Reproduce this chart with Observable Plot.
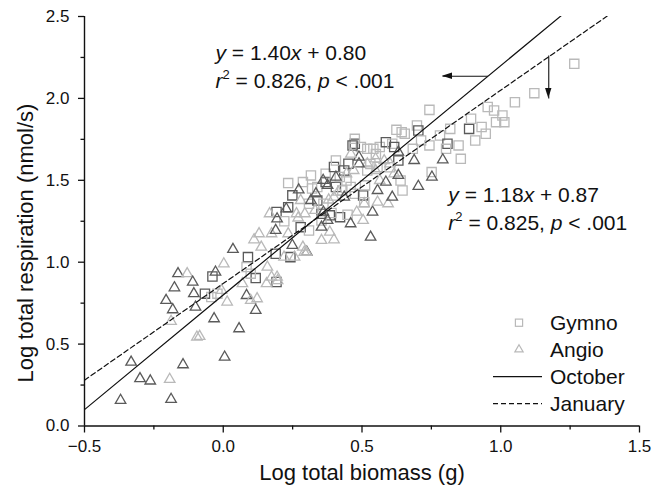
<!DOCTYPE html>
<html>
<head>
<meta charset="utf-8">
<script src="https://cdn.jsdelivr.net/npm/d3@7"></script>
<script src="https://cdn.jsdelivr.net/npm/@observablehq/plot@0.6"></script>
<style>
  html, body { margin: 0; padding: 0; background: #fff; }
  #chart { width: 652px; height: 494px; }
</style>
</head>
<body>
<div id="chart"></div>
<script>
// ---- Data ----
// Gymnosperms (open squares); tone: "d" = dark outline, "l" = light outline
const gymnoX = [-0.066,-0.043,-0.039,-0.021,0.089,0.117,0.189,0.192,0.192,0.234,0.242,0.234,0.287,0.316,0.339,0.369,0.369,0.399,0.406,0.354,0.384,0.354,0.421,0.451,0.474,0.474,0.496,0.519,0.541,0.564,0.586,0.609,0.616,0.631,0.639,0.646,0.474,0.504,0.511,0.519,0.556,0.624,0.643,0.698,0.703,0.743,0.743,0.751,0.781,0.808,0.818,0.803,0.848,0.856,0.886,0.893,0.908,0.931,0.946,0.953,0.976,0.983,1.006,1.013,1.051,1.121,1.265,0.654,0.683,0.713,0.249,0.309,0.339,0.361,0.429,0.444,0.459,0.406,0.436,0.279,0.309,0.099,0.084,0.466,0.448,0.508,0.32,0.42,0.53,0.55,0.60,0.39,0.22];
const gymnoY = [0.808,0.787,0.913,0.808,1.031,0.903,1.052,0.879,1.306,1.336,1.031,1.483,1.489,1.530,1.459,1.489,1.540,1.581,1.459,1.296,1.286,1.255,1.275,1.601,1.723,1.753,1.703,1.692,1.692,1.703,1.733,1.723,1.703,1.621,1.499,1.438,1.418,1.408,1.469,1.560,1.581,1.808,1.794,1.835,1.804,1.930,1.713,1.550,1.774,1.723,1.814,1.692,1.713,1.631,1.814,1.876,1.743,1.825,1.784,1.947,1.926,1.855,1.896,1.855,1.977,2.032,2.211,1.784,1.692,1.743,1.408,1.357,1.377,1.357,1.438,1.499,1.459,1.621,1.560,1.214,1.194,0.930,0.970,1.712,1.290,1.366,1.450,1.520,1.600,1.660,1.580,1.300,1.250];
const gymnoTone = ["d","l","d","l","d","d","d","d","d","d","d","l","l","l","l","d","l","d","d","d","d","l","d","d","d","l","l","l","l","l","d","l","d","d","l","l","l","d","l","l","l","l","l","l","d","l","l","l","l","d","l","l","l","l","d","l","l","l","l","l","l","l","l","l","l","l","l","l","l","l","d","l","d","l","l","l","l","l","d","d","l","l","l","d","l","l","l","l","l","l","l","l","l"];

// Angiosperms (open triangles)
const angioX = [-0.370,-0.332,-0.300,-0.263,-0.193,-0.188,-0.145,-0.206,-0.182,-0.176,-0.163,-0.130,-0.188,-0.110,-0.106,-0.100,-0.085,-0.095,-0.033,0.005,0.057,-0.028,0.002,0.035,0.014,-0.006,0.069,0.084,0.099,0.122,0.117,0.111,0.137,0.159,0.156,0.194,0.167,0.174,0.194,0.227,0.234,0.249,0.257,0.301,0.279,0.272,0.294,0.316,0.334,0.331,0.361,0.354,0.384,0.399,0.376,0.376,0.399,0.406,0.414,0.436,0.459,0.481,0.504,0.508,0.531,0.538,0.556,0.556,0.564,0.594,0.609,0.586,0.616,0.631,0.489,0.519,0.549,0.601,0.631,0.688,0.703,0.752,0.791,0.489,0.444,0.549,0.264,0.189,0.129,0.174,0.219,0.287,0.354,0.292,0.196,0.30,0.38,0.47,0.58,0.46,0.36,0.27];
const angioY = [0.157,0.390,0.289,0.275,0.285,0.163,0.374,0.767,0.710,0.844,0.930,0.930,0.639,0.879,0.808,0.726,0.547,0.543,0.655,0.421,0.594,0.940,0.990,1.078,0.757,0.828,0.869,0.797,0.767,0.777,0.706,1.137,1.092,0.970,0.869,0.909,1.296,1.174,1.265,1.326,1.174,1.103,1.031,1.062,1.377,1.442,1.296,1.377,1.418,1.316,1.306,1.133,1.184,1.137,1.255,1.469,1.397,1.520,1.428,1.397,1.235,1.306,1.255,1.357,1.153,1.306,1.438,1.367,1.499,1.357,1.397,1.489,1.540,1.530,1.642,1.601,1.631,1.601,1.672,1.621,1.463,1.520,1.625,1.601,1.540,1.560,1.296,1.194,1.174,0.909,1.031,1.092,1.214,1.061,0.888,1.060,1.380,1.560,1.620,1.660,1.500,1.270];
const angioTone = ["d","d","d","d","l","d","d","d","d","d","d","l","l","d","d","d","l","l","d","d","d","d","l","d","l","l","l","d","l","l","d","l","l","l","l","l","l","l","d","d","l","d","l","d","l","d","l","d","d","l","d","l","l","l","d","d","l","d","l","d","d","l","l","l","d","d","d","l","l","l","d","d","l","d","d","l","l","l","d","d","d","d","d","d","l","l","l","d","l","l","l","l","d","l","l","l","l","l","l","l","d","l"];

// Regression fits shown on the chart
const fitNames = ["October", "January"];
const fitSlope = [1.40, 1.18];
const fitIntercept = [0.80, 0.87];
const fitR2 = ["0.826", "0.825"];

// Axis ticks
const majorX = [-0.5, 0.0, 0.5, 1.0, 1.5];
const minorX = [-0.25, 0.25, 0.75, 1.25];
const majorY = [0.0, 0.5, 1.0, 1.5, 2.0, 2.5];
const minorY = [0.25, 0.75, 1.25, 1.75, 2.25];

// ---- Build tables ----
const gymno = gymnoX.map((x, i) => ({x, y: gymnoY[i], tone: gymnoTone[i]}));
const angio = angioX.map((x, i) => ({x, y: angioY[i], tone: angioTone[i]}));
const xDomain = [-0.5, 1.5];
const fits = fitNames.flatMap((name, i) =>
  xDomain.map(x => ({name, x, y: fitSlope[i] * x + fitIntercept[i]})));

const toneColor = {d: "#5a5a5a", l: "#b9b9b9"};
const FONT = "'Liberation Sans', Arial, Helvetica, sans-serif";

// annotation arrows (from the fit line toward its equation)
const arrows = [
  {x1: 0.954, y1: 2.135, x2: 0.79, y2: 2.135},
  {x1: 1.173, y1: 2.262, x2: 1.173, y2: 2.0}
];

const chart = Plot.plot({
  width: 652,
  height: 494,
  marginLeft: 84,
  marginRight: 13,
  marginTop: 16,
  marginBottom: 68.5,
  x: {domain: xDomain, label: null},
  y: {domain: [0, 2.5], label: null},
  style: {fontFamily: FONT, fontSize: "17px", color: "#111", background: "#fff", overflow: "visible"},
  marks: [
    Plot.dot(gymno, {x: "x", y: "y", symbol: "square", r: 5.2, fill: "none",
      stroke: d => toneColor[d.tone], strokeWidth: 1.3}),
    Plot.dot(angio, {x: "x", y: "y", symbol: "triangle", r: 3.9, fill: "none",
      stroke: d => toneColor[d.tone], strokeWidth: 1.3}),
    Plot.line(fits.filter(d => d.name === "October"), {x: "x", y: "y", stroke: "#111", strokeWidth: 1.2, clip: true}),
    Plot.line(fits.filter(d => d.name === "January"), {x: "x", y: "y", stroke: "#111", strokeWidth: 1.2, strokeDasharray: "5,3", clip: true}),
    Plot.link(arrows, {x1: "x1", y1: "y1", x2: "x2", y2: "y2", stroke: "#111", strokeWidth: 1.1}),
    Plot.ruleY([0], {stroke: "#111", strokeWidth: 1.4}),
    Plot.ruleX([-0.5], {stroke: "#111", strokeWidth: 1.4}),
    Plot.axisX({ticks: minorX, tickSize: 4, strokeWidth: 1.3, tickFormat: () => "", label: null}),
    Plot.axisX({ticks: majorX, tickSize: 7, tickPadding: 7, strokeWidth: 1.3, tickFormat: d3.format(".1f"), label: null}),
    Plot.axisY({ticks: minorY, tickSize: 3.5, strokeWidth: 1.3, tickFormat: () => "", label: null}),
    Plot.axisY({ticks: majorY, tickSize: 6, tickPadding: 9, strokeWidth: 1.3, tickFormat: d3.format(".1f"), label: null}),
    Plot.text(["Log total biomass (g)"], {frameAnchor: "bottom", dy: 53.5, fontSize: 22, fill: "#111"})
  ]
});

document.getElementById("chart").appendChild(chart);

// ---- Equations, y title, arrowheads and legend (positioned via the chart's scales) ----
const sx = chart.scale("x"), sy = chart.scale("y");
const svg = d3.select(chart);
const ann = svg.append("g").attr("font-family", FONT).attr("fill", "#111").attr("text-anchor", "start");

// y-axis title
svg.append("text").attr("font-family", FONT).attr("font-size", 22).attr("fill", "#111")
  .attr("text-anchor", "middle")
  .attr("transform", `translate(33,243) rotate(-90)`)
  .text("Log total respiration (nmol/s)");

// filled arrowheads at arrow tips
arrows.forEach(a => {
  const tx = sx.apply(a.x2), ty = sy.apply(a.y2);
  const fx = sx.apply(a.x1), fy = sy.apply(a.y1);
  const ang = Math.atan2(ty - fy, tx - fx);
  const L = 10, W = 3.2;
  const bx = tx - L * Math.cos(ang), by = ty - L * Math.sin(ang);
  const nx = -Math.sin(ang) * W, ny = Math.cos(ang) * W;
  svg.append("path")
    .attr("d", `M${tx},${ty}L${bx + nx},${by + ny}L${bx - nx},${by - ny}Z`)
    .attr("fill", "#111");
});

function equation(i, xv, yv) {
  const px = sx.apply(xv), py = sy.apply(yv);
  const t1 = ann.append("text").attr("x", px).attr("y", py).attr("font-size", 21);
  t1.append("tspan").attr("font-style", "italic").text("y");
  t1.append("tspan").text(` = ${fitSlope[i].toFixed(2)}`);
  t1.append("tspan").attr("font-style", "italic").text("x");
  t1.append("tspan").text(` + ${fitIntercept[i].toFixed(2)}`);
  const t2 = ann.append("text").attr("x", px).attr("y", py + 28).attr("font-size", 21);
  t2.append("tspan").attr("font-style", "italic").text("r");
  t2.append("tspan").attr("font-size", 13).attr("dy", -9).text("2");
  t2.append("tspan").attr("dy", 9).text(` = ${fitR2[i]}, `);
  t2.append("tspan").attr("font-style", "italic").text("p");
  t2.append("tspan").text(" < .001");
}
equation(0, -0.026, 2.231);
equation(1, 0.813, 1.364);

// Legend
const lg = svg.append("g").attr("font-family", FONT).attr("font-size", 21).attr("fill", "#111").attr("text-anchor", "start");
const lx = 519, ltx = 550, rows = [330, 357, 384, 411];
lg.append("rect").attr("x", lx - 3.6).attr("y", rows[0] - 10.9).attr("width", 7.2).attr("height", 7.2)
  .attr("fill", "none").attr("stroke", "#b9b9b9").attr("stroke-width", 1.2);
lg.append("path").attr("d", d3.symbol(d3.symbolTriangle, 30)())
  .attr("transform", `translate(${lx},${rows[1] - 7.5})`)
  .attr("fill", "none").attr("stroke", "#b9b9b9").attr("stroke-width", 1.2);
lg.append("line").attr("x1", 493).attr("x2", 542).attr("y1", rows[2] - 7.3).attr("y2", rows[2] - 7.3)
  .attr("stroke", "#111").attr("stroke-width", 1.2);
lg.append("line").attr("x1", 493).attr("x2", 542).attr("y1", rows[3] - 7.3).attr("y2", rows[3] - 7.3)
  .attr("stroke", "#111").attr("stroke-width", 1.2).attr("stroke-dasharray", "5,3");
["Gymno", "Angio", fitNames[0], fitNames[1]].forEach((t, i) =>
  lg.append("text").attr("x", ltx).attr("y", rows[i]).text(t));
</script>
</body>
</html>
